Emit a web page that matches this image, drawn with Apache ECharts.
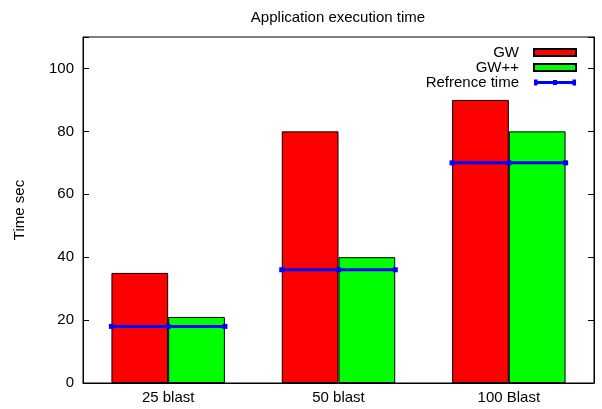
<!DOCTYPE html>
<html>
<head>
<meta charset="utf-8">
<script src="https://cdn.jsdelivr.net/npm/echarts@6/dist/echarts.min.js"></script>
<style>html,body{margin:0;padding:0;background:#fff}#c{width:602px;height:409px}</style>
</head>
<body>
<div id="c"></div>
<script>
var categories = ['25 blast', '50 blast', '100 Blast'];
var gwValues = [35, 80, 90];
var gwppValues = [21, 40, 80];
var refTimeValues = [18, 36, 70];
var yTicks = [0, 20, 40, 60, 80, 100];

var FONT = 'Liberation Sans, Arial, sans-serif';
var FS = 15;
var chart = echarts.init(document.getElementById('c'), null, {renderer: 'canvas'});

var refData = refTimeValues.map(function (v, i) { return [i, v]; });

chart.setOption({
  animation: false,
  backgroundColor: '#fff',
  textStyle: {fontFamily: FONT},
  title: {
    text: 'Application execution time',
    left: 333, top: 5, textAlign: 'center',
    textStyle: {fontFamily: FONT, fontSize: FS, fontWeight: 'normal', color: '#000'}
  },
  grid: {left: 83, right: 8, top: 37, bottom: 26, show: true, borderColor: '#000', borderWidth: 1, backgroundColor: 'transparent'},
  legend: {
    orient: 'vertical', right: 20, top: 40, align: 'right',
    itemWidth: 42, itemHeight: 7, itemGap: 0,
    textStyle: {fontFamily: FONT, fontSize: FS, color: '#000', padding: [0, 10, 0, 0]},
    data: [
      {name: 'GW', icon: 'rect'},
      {name: 'GW++', icon: 'rect'},
      {name: 'Refrence time', icon: 'path://M0,3H42V6H0Z M0,1.5H3.5V7.5H0Z M19,2H23V7H19Z M38.5,1.5H42V7.5H38.5Z'}
    ]
  },
  xAxis: {
    type: 'category', data: categories, boundaryGap: true,
    axisLine: {lineStyle: {color: '#000', width: 1}},
    axisTick: {show: false},
    axisLabel: {fontFamily: FONT, fontSize: FS, color: '#000', margin: 7},
    splitLine: {show: false}
  },
  yAxis: [{
    type: 'value', min: 0, max: 110, interval: 20,
    name: 'Time sec', nameLocation: 'middle', nameGap: 56, nameRotate: 90,
    nameTextStyle: {fontFamily: FONT, fontSize: FS, color: '#000'},
    axisLine: {show: true, lineStyle: {color: '#000'}},
    axisTick: {show: true, inside: true, length: 6, lineStyle: {color: '#000'}},
    axisLabel: {fontFamily: FONT, fontSize: FS, color: '#000', margin: 9,
      formatter: function (v) { return yTicks.indexOf(v) >= 0 ? String(v) : ''; }},
    splitLine: {show: false}
  }, {
    type: 'value', min: 0, max: 110, interval: 20, position: 'right',
    axisLine: {show: true, lineStyle: {color: '#000'}},
    axisTick: {show: true, inside: true, length: 6, lineStyle: {color: '#000'}},
    axisLabel: {show: false},
    splitLine: {show: false}
  }],
  series: [{
    name: 'GW', type: 'bar', data: gwValues, barWidth: '33.3%', barGap: '0%',
    itemStyle: {color: '#ff0000', borderColor: '#000', borderWidth: 1}
  }, {
    name: 'GW++', type: 'bar', data: gwppValues, barWidth: '33.3%', barGap: '0%',
    itemStyle: {color: '#00ff00', borderColor: '#000', borderWidth: 1}
  }, {
    name: 'Refrence time', type: 'custom', data: refData, z: 5,
    itemStyle: {color: '#0000ff'},
    renderItem: function (params, api) {
      var p = api.coord([api.value(0), api.value(1)]);
      var band = api.size([1, 0])[0];
      var w = band / 3;
      var c = '#0000ff';
      var kids = [{
        type: 'line',
        shape: {x1: p[0] - w, y1: p[1], x2: p[0] + w, y2: p[1]},
        style: {stroke: c, lineWidth: 3}
      }];
      [-w, 0, w].forEach(function (d) {
        kids.push({type: 'rect', shape: {x: p[0] + d - 2.5, y: p[1] - 2.5, width: 5, height: 5}, style: {fill: c}});
      });
      return {type: 'group', children: kids};
    }
  }]
});
</script>
</body>
</html>
